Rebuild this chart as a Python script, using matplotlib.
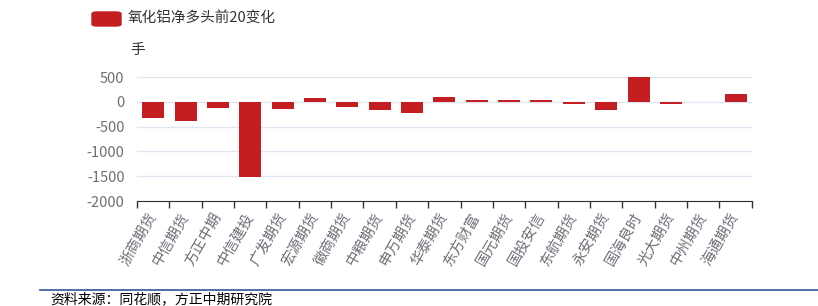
import matplotlib
matplotlib.use("Agg")
import matplotlib.pyplot as plt
from matplotlib.patches import FancyBboxPatch

plt.rcParams['font.family'] = ['Noto Sans CJK SC', 'DejaVu Sans']

brokers = ["浙商期货", "中信期货", "方正中期", "中信建投", "广发期货", "宏源期货", "徽商期货",
           "中粮期货", "申万期货", "华泰期货", "东方财富", "国元期货", "国投安信", "东航期货",
           "永安期货", "国海良时", "光大期货", "中州期货", "海通期货"]
changes = [-320, -395, -120, -1520, -135, 88, -100, -160, -228, 100, 47, 47, 40, -35,
           -165, 500, -40, -10, 165]
yticks = [500, 0, -500, -1000, -1500, -2000]

bar_color = "#c41e22"
label_color = "#6e7079"

fig = plt.figure(figsize=(8.18, 3.06), dpi=100)
ax = fig.add_axes([0.1675, 0.343, 0.7515, 0.405])

x = list(range(len(brokers)))
ax.bar(x, changes, width=0.68, color=bar_color, zorder=3)
ax.set_xlim(-0.5, len(brokers) - 0.5)
ax.set_ylim(-2000, 500)
ax.set_yticks(yticks)
ax.set_yticklabels([str(v) for v in yticks], color=label_color, fontsize=10.5)
ax.tick_params(axis='y', length=0, pad=9)
ax.grid(axis='y', color="#e0e6f1", linewidth=1, zorder=0)

# category ticks sit on the boundaries
ax.set_xticks([i - 0.5 for i in range(len(brokers) + 1)], minor=False)
ax.set_xticklabels([])
ax.set_xticks(x, minor=True)
ax.set_xticklabels(brokers, minor=True, rotation=60, ha='right', va='center',
                   rotation_mode='anchor', color=label_color, fontsize=10.5)
ax.tick_params(axis='x', which='major', length=5, color="#333333", width=1)
ax.tick_params(axis='x', which='minor', length=0, pad=9)

for side in ['top', 'right', 'left']:
    ax.spines[side].set_visible(False)
ax.spines['bottom'].set_color("#333333")

# legend
fig.patches.append(FancyBboxPatch((92 / 818, 1 - 26 / 306), 29 / 818, 14 / 306,
                                  boxstyle="round,pad=0,rounding_size=0.006",
                                  transform=fig.transFigure, color=bar_color))
fig.text(128 / 818, 1 - 18 / 306, "氧化铝净多头前20变化", fontsize=10.5,
         color="#333333", va='center')
fig.text(130 / 818, 1 - 50 / 306, "手", fontsize=10.5, color="#333333", va='center')

# source line
fig.add_artist(plt.Line2D([40 / 818, 1], [1 - 290 / 306] * 2, color="#2f5597",
                          linewidth=1.2, transform=fig.transFigure))
fig.text(50 / 818, 1 - 299 / 306, "资料来源：同花顺，方正中期研究院", fontsize=10,
         style='italic', color="#000000", va='center')

fig.savefig("out.png", dpi=100)
